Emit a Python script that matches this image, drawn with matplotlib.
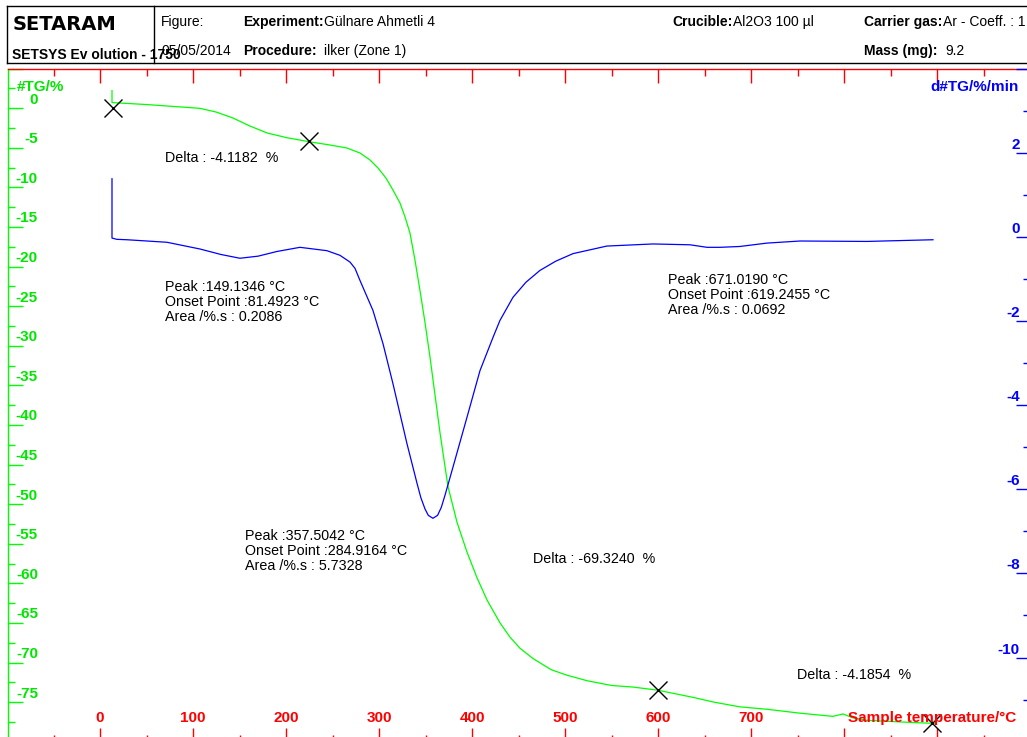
#!/usr/bin/env python3
import numpy as np
import matplotlib

matplotlib.use("Agg")
import matplotlib.pyplot as plt
import matplotlib.transforms as mtransforms
from matplotlib.lines import Line2D
from matplotlib.ticker import MultipleLocator

plt.rcParams["font.family"] = ["Liberation Sans", "DejaVu Sans"]

# ========================================================================
# Data
# ========================================================================
# TG curve: sample temperature (C) and mass change (%)
tg_temp = [12.9, 12.9, 20, 50, 80, 107.5, 125, 143, 160, 179.6,
           201, 224.7, 247.3, 265.6, 279.6, 290.3, 298.9, 307.5, 315, 322.6,
           328, 333.3, 338.7, 344, 349.5, 354.8, 360.2, 365.6, 374.2, 383.9,
           394.6, 405.4, 416.1, 430.1, 440.9, 451.6, 465.6, 485, 502, 523.7,
           550, 573, 600, 637.6, 660, 688, 717, 752.7, 788, 799,
           810, 824.7, 860, 889, 897]
tg_val = [2.2, 0.7, 0.65, 0.45, 0.2, -0.03, -0.5, -1.25, -2.2, -3.14,
          -3.74, -4.24, -4.66, -5.04, -5.67, -6.55, -7.56, -8.83, -10.34, -11.99,
          -13.75, -15.77, -19.2, -22.98, -27.1, -31.4, -36.2, -41.0, -47.8, -52.3,
          -56.05, -59.3, -62.1, -65.0, -66.8, -68.2, -69.5, -70.9, -71.6, -72.3,
          -72.9, -73.1, -73.5, -74.4, -75.0, -75.6, -75.9, -76.4, -76.8, -76.5,
          -77.0, -77.3, -77.5, -77.65, -77.7]

# DTG curve: sample temperature (C) and d#TG (%/min)
dtg_temp = [12.9, 12.9, 18, 29, 72, 107.5, 130, 150.5, 170, 190,
            215, 244, 258, 268.8, 274.2, 279.6, 293.5, 304.3, 315, 330,
            340.9, 345, 349.5, 353, 358, 363, 367, 371, 379.6, 394.6,
            408.6, 422.6, 430, 444, 458, 473, 490, 508.6, 545, 594.6,
            634.4, 652.7, 666.7, 688, 717, 752.7, 824.7, 860, 895.7]
dtg_val = [1.38, -0.03, -0.06, -0.07, -0.13, -0.29, -0.42, -0.51, -0.46, -0.35,
           -0.25, -0.33, -0.44, -0.60, -0.75, -1.04, -1.75, -2.54, -3.49, -4.91,
           -5.86, -6.2, -6.47, -6.62, -6.69, -6.62, -6.43, -6.14, -5.47, -4.29,
           -3.18, -2.39, -1.99, -1.44, -1.08, -0.80, -0.58, -0.40, -0.22, -0.17,
           -0.19, -0.25, -0.25, -0.23, -0.15, -0.10, -0.11, -0.09, -0.07]

# mass loss steps between cursor marks
mark_temp = [14.0, 224.7, 600.0, 894.6]
deltas = [-4.1182, -69.3240, -4.1854]
mark_tg = np.concatenate([[0.0], np.cumsum(deltas)])

peaks = [
    (149.1346, 81.4923, 0.2086),
    (671.0190, 619.2455, 0.0692),
    (357.5042, 284.9164, 5.7328),
]

x_ticklabels = [0, 100, 200, 300, 400, 500, 600, 700]
tg_ticklabels = list(range(0, -80, -5))
dtg_ticklabels = [2, 0, -2, -4, -6, -8, -10]

# ========================================================================
# Layout
# ========================================================================
W, H = 1027, 737
green = "#00ff00"
green_txt = "#00e600"
blue = "#0000ff"
red = "#ff0000"


def fx(px):
    return px / W


def fy(py):
    return 1 - py / H


fig = plt.figure(figsize=(W / 100, H / 100), dpi=100)

ax_l, ax_r, ax_t, ax_b = 7.5, 1031.0, 68.5, 741.7
ax = fig.add_axes([fx(ax_l), fy(ax_b), fx(ax_r) - fx(ax_l), fy(ax_t) - fy(ax_b)])
ax2 = ax.twinx()

# temperature scale: 0 C at px 100, 93 px per 100 C
ax.set_xlim((ax_l - 100) / 0.93, (ax_r - 100) / 0.93)
ax.set_ylim(-80, 5)
ax2.set_ylim(-12, 4)

ax.plot(tg_temp, tg_val, color=green, lw=0.9, zorder=3, solid_joinstyle="round")
ax2.plot(dtg_temp, dtg_val, color=blue, lw=0.9, zorder=3, solid_joinstyle="round")
ax.plot(mark_temp, mark_tg, ls="none", marker="x", ms=13, mew=1.0, color="k", zorder=4)

# spines
ax.spines["left"].set_color(green)
ax.spines["top"].set_color(red)
ax.spines["bottom"].set_color(red)
ax.spines["right"].set_visible(False)
for s in ["left", "top", "bottom"]:
    ax2.spines[s].set_visible(False)
ax2.spines["right"].set_color(blue)
for a in (ax, ax2):
    for s in a.spines.values():
        s.set_linewidth(1.0)

# ticks
ax.xaxis.set_major_locator(MultipleLocator(100))
ax.xaxis.set_minor_locator(MultipleLocator(50))
ax.tick_params(axis="x", which="both", top=True, bottom=True, direction="in",
               color=red, width=1.0, labelbottom=False, labeltop=False)
ax.tick_params(axis="x", which="major", length=10)
ax.tick_params(axis="x", which="minor", length=5)

ax.yaxis.set_major_locator(MultipleLocator(5))
ax.yaxis.set_minor_locator(MultipleLocator(2.5))
ax.tick_params(axis="y", which="both", direction="in", color=green, width=1.0,
               labelleft=False)
ax.tick_params(axis="y", which="major", length=11)
ax.tick_params(axis="y", which="minor", length=5)

ax2.yaxis.set_major_locator(MultipleLocator(2))
ax2.yaxis.set_minor_locator(MultipleLocator(1))
ax2.tick_params(axis="y", which="both", direction="in", color=blue, width=1.0,
                labelright=False)
ax2.tick_params(axis="y", which="major", length=11)
ax2.tick_params(axis="y", which="minor", length=6)

# tick labels sit inside the frame, above their ticks
tick_font = dict(fontsize=11, fontweight="bold")
trans = mtransforms.offset_copy(ax.get_xaxis_transform(), fig=fig, x=0, y=23.5, units="dots")
for t in x_ticklabels:
    ax.text(t, 0, str(t), transform=trans, ha="center", va="center", color=red, **tick_font)

trans = mtransforms.offset_copy(ax.get_yaxis_transform(), fig=fig, x=30.5, y=8.5, units="dots")
for v in tg_ticklabels:
    ax.text(0, v, str(v), transform=trans, ha="right", va="center", color=green_txt, **tick_font)

trans = mtransforms.offset_copy(ax2.get_yaxis_transform(), fig=fig, x=-11, y=8, units="dots")
for v in dtg_ticklabels:
    ax2.text(1, v, str(v), transform=trans, ha="right", va="center", color=blue, **tick_font)

# axis titles
fig.text(fx(17), fy(86.7), "#TG/%", color=green_txt, fontsize=11, fontweight="bold",
         ha="left", va="center")
fig.text(fx(1019), fy(86.7), "d#TG/%/min", color=blue, fontsize=11, fontweight="bold",
         ha="right", va="center")
fig.text(fx(848), fy(718), "Sample temperature/°C", color=red, fontsize=11,
         fontweight="bold", ha="left", va="center", zorder=5)

# ========================================================================
# Annotations
# ========================================================================
ann = dict(fontsize=10.3, color="k", ha="left", va="center")
ax.text(69.9, -6.3, "Delta : {:.4f}  %".format(deltas[0]), **ann)
ax.text(465.6, -56.9, "Delta : {:.4f}  %".format(deltas[1]), **ann)
ax.text(749.5, -71.6, "Delta : {:.4f}  %".format(deltas[2]), **ann)

peak_pos = [(69.9, -24.5), (610.8, -23.6), (155.9, -55.9)]
for (pk, onset, area), (tx, ty) in zip(peaks, peak_pos):
    ax.text(tx, ty,
            "Peak :{:.4f} °C\nOnset Point :{:.4f} °C\nArea /%.s : {:.4f}".format(pk, onset, area),
            linespacing=1.12, **ann)

# ========================================================================
# Header box
# ========================================================================
box_kw = dict(color="k", lw=1.0, transform=fig.transFigure)
fig.add_artist(Line2D([fx(7.3), fx(1030)], [fy(5.7), fy(5.7)], **box_kw))
fig.add_artist(Line2D([fx(7.3), fx(1030)], [fy(63.3), fy(63.3)], **box_kw))
fig.add_artist(Line2D([fx(7.3), fx(7.3)], [fy(5.7), fy(63.3)], **box_kw))
fig.add_artist(Line2D([fx(154), fx(154)], [fy(5.7), fy(63.3)], **box_kw))

hdr = dict(fontsize=10, color="k", ha="left", va="baseline")
hdrb = dict(hdr, fontweight="bold")
fig.text(fx(13), fy(30), "SETARAM", fontsize=14, fontweight="heavy", family="DejaVu Sans",
         color="k", ha="left", va="baseline")
fig.text(fx(12), fy(59), "SETSYS Ev olution - 1750", **hdrb)
fig.text(fx(161), fy(26), "Figure:", **hdr)
fig.text(fx(161), fy(55), "05/05/2014", **hdr)
fig.text(fx(243), fy(26), "Experiment:", **hdrb)
fig.text(fx(324), fy(26), "Gülnare Ahmetli 4", **hdr)
fig.text(fx(243), fy(55), "Procedure:", **hdrb)
fig.text(fx(324), fy(55), "ilker (Zone 1)", **hdr)
fig.text(fx(672), fy(26), "Crucible:", **hdrb)
fig.text(fx(733), fy(26), "Al2O3 100 µl", **hdr)
fig.text(fx(864), fy(26), "Carrier gas:", **hdrb)
fig.text(fx(943), fy(26), "Ar - Coeff. : 1", **hdr)
fig.text(fx(864), fy(55), "Mass (mg):", **hdrb)
fig.text(fx(945), fy(55), "9.2", **hdr)

fig.savefig("out.png", dpi=100)
